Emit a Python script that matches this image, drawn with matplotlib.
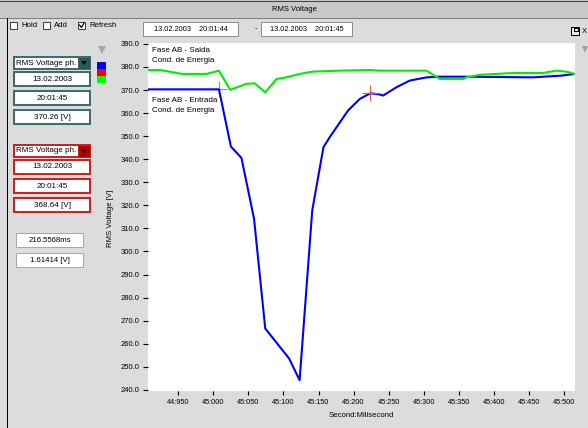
import matplotlib
matplotlib.use('Agg')
import matplotlib.pyplot as plt
from matplotlib.patches import Rectangle, Polygon

# ---------------- data ----------------
# x: milliseconds after 20:01:44.000 (1000 -> 45:000)
blue_ms = [907, 1008, 1025, 1040, 1058, 1074, 1108, 1123, 1141, 1157, 1166, 1192,
           1209, 1224, 1237, 1242, 1261, 1280, 1304, 1323, 1356, 1456, 1498, 1515]
blue_v = [370.3, 370.3, 345.5, 340.6, 314.2, 266.6, 253.6, 244.2, 317.8, 345.2, 349.6, 361.1,
          366.2, 368.6, 368.1, 367.6, 371.2, 374.1, 375.5, 375.8, 375.8, 375.5, 376.3, 377.0]
green_ms = [907, 924, 955, 990, 1008, 1024, 1047, 1059, 1074, 1090, 1104, 1123, 1142,
            1180, 1223, 1237, 1304, 1323, 1356, 1361, 1380, 1427, 1470, 1489, 1503, 1515]
green_v = [378.7, 378.7, 377.0, 377.0, 378.4, 370.1, 372.7, 372.9, 369.0, 374.8, 375.5, 377.0, 378.0,
           378.4, 378.7, 378.4, 378.4, 374.8, 374.8, 375.5, 376.6, 377.4, 377.4, 378.4, 378.0, 377.0]
x_ticks = [950, 1000, 1050, 1100, 1150, 1200, 1250, 1300, 1350, 1400, 1450, 1500]
x_tick_labels = ["44:950", "45:000", "45:050", "45:100", "45:150", "45:200", "45:250",
                 "45:300", "45:350", "45:400", "45:450", "45:500"]
y_ticks = [240, 250, 260, 270, 280, 290, 300, 310, 320, 330, 340, 350, 360, 370, 380, 390]
y_tick_labels = [f"{v:.1f}" for v in y_ticks]
cursor1 = (1008, 370.3)
cursor2 = (1224, 368.6)

W, H = 588, 428
plt.rcParams['font.family'] = ['Liberation Sans', 'DejaVu Sans']
fig = plt.figure(figsize=(W / 100, H / 100), dpi=100)
BG = '#dcdcdc'
fig.patch.set_facecolor(BG)

ui = fig.add_axes([0, 0, 1, 1], zorder=0)
ui.set_xlim(0, W)
ui.set_ylim(H, 0)
ui.axis('off')
PX = 0.72  # one pixel in points


def rect(x0, y0, x1, y1, fc='white', ec='none', lw=1.0):
    ui.add_patch(Rectangle((x0, y0), x1 - x0, y1 - y0, facecolor=fc, edgecolor=ec,
                           linewidth=lw * PX, clip_on=False))


def txt(x, y, s, size=5.5, ha='center', **kw):
    ui.text(x, y, s, fontsize=size, ha=ha, va='center', color='black', clip_on=False, **kw)


# title bar
rect(0, 0, W, 18, fc='#c8c8c8')
ui.plot([0, W], [0.5, 0.5], color='#404040', lw=PX)
ui.plot([0, W], [18, 18], color='#808080', lw=PX)
txt(294, 9, "RMS Voltage", size=5.5)
# left border
ui.plot([6.5, 6.5], [18, H], color='black', lw=PX)

# checkboxes
for bx, label in [(10, "Hold"), (43, "Add"), (78, "Refresh")]:
    rect(bx, 22, bx + 7, 29, fc='white', ec='#404040', lw=1)
    txt(bx + 11, 25.5, label, size=5.6, ha='left')
ui.plot([79.5, 81.5, 84], [25, 27.5, 23], color='black', lw=1.2 * PX)

# date boxes
rect(143, 22, 238, 36, fc='white', ec='#909090', lw=1)
txt(190.5, 29, "13.02.2003    20:01:44", size=5.3)
txt(256, 29, "-", size=5.5)
rect(261, 22, 352, 36, fc='white', ec='#909090', lw=1)
txt(306.5, 29, "13.02.2003    20:01:45", size=5.3)

# top-right icons
rect(571, 27, 579, 35, fc='#e8e8e8', ec='black', lw=1)
rect(574, 28, 578, 31, fc='none', ec='black', lw=1)
txt(581.5, 31, "X", size=5.5, ha='left')
ui.add_patch(Polygon([[582, 46], [588, 46], [585, 53]], closed=True, fc='#a0a0a0', ec='none', clip_on=False))
ui.add_patch(Polygon([[98, 46], [106, 46], [102, 54]], closed=True, fc='#a8a8a8', ec='none', clip_on=False))

# colour legend squares
rect(97, 62, 106, 69, fc='#0000ff')
rect(97, 69, 106, 76, fc='#ff0000')
rect(97, 76, 106, 83, fc='#00ff00')


def panel(y0, col, btn, values):
    rect(14, y0, 90, y0 + 12, fc='white', ec=col, lw=2)
    rect(78, y0, 90, y0 + 12, fc=btn, ec=col, lw=1)
    ui.add_patch(Polygon([[81, y0 + 4], [87, y0 + 4], [84, y0 + 8]], closed=True,
                         fc='black', ec='none', clip_on=False))
    txt(15.5, y0 + 6, "RMS Voltage ph.", size=5.8, ha='left')
    ys = [y0 + 15, y0 + 34, y0 + 53]
    for yy, s in zip(ys, values):
        rect(14, yy, 90, yy + 14, fc='white', ec=col, lw=2)
        txt(52, yy + 7, s, size=5.8)


panel(57, '#3c6e6e', '#2c5858', ["13.02.2003", "20:01:45", "370.26 [V]"])
panel(145, '#cc2222', '#b00000', ["13.02.2003", "20:01:45", "368.64 [V]"])
rect(16, 233, 83, 247, fc='white', ec='#a8a8a8', lw=1)
txt(49.5, 240, "216.5568ms", size=5.6)
rect(16, 253, 83, 267, fc='white', ec='#a8a8a8', lw=1)
txt(49.5, 260, "1.61414 [V]", size=5.6)

# axis titles
txt(111, 218, "RMS Voltage [V]", size=5.6, rotation=90)
txt(361.7, 415.5, "Second:Milisecond", size=5.6)

# ---------------- chart ----------------
ax = fig.add_axes([148 / W, (H - 391) / H, (575 - 148) / W, (391 - 43) / H], zorder=1)
ax.set_facecolor('white')
for s in ax.spines.values():
    s.set_visible(False)
ax.set_xlim(906.8, 1515.7)
ax.set_ylim(239.5, 390.4)
ax.set_xticks(x_ticks)
ax.set_xticklabels(x_tick_labels)
ax.set_yticks(y_ticks)
ax.set_yticklabels(y_tick_labels)
ax.tick_params(axis='y', direction='out', length=3.8, width=0.8, pad=2.4, labelsize=5.5)
ax.tick_params(axis='x', direction='out', length=3.2, width=0.8, pad=2.6, labelsize=5.3)

ax.plot(*cursor1, marker='+', ms=11, mew=0.8, color='#909090', zorder=1)
ax.plot(blue_ms, blue_v, color='#0000ff', lw=1.5, zorder=2)
ax.plot(green_ms, green_v, color='#00ee00', lw=1.5, zorder=3)
ax.plot(*cursor2, marker='+', ms=12, mew=0.8, color='#e05555', zorder=4)

for (x, y, s) in [(151.5, 50, "Fase AB - Saida"), (151.5, 60.7, "Cond. de Energia"),
                  (151.5, 100, "Fase AB - Entrada"), (151.5, 110.7, "Cond. de Energia")]:
    ax.text(x, y, s, transform=ui.transData, fontsize=5.8, ha='left', va='center',
            color='black', zorder=5)

fig.savefig('out.png', dpi=100, facecolor=BG)
